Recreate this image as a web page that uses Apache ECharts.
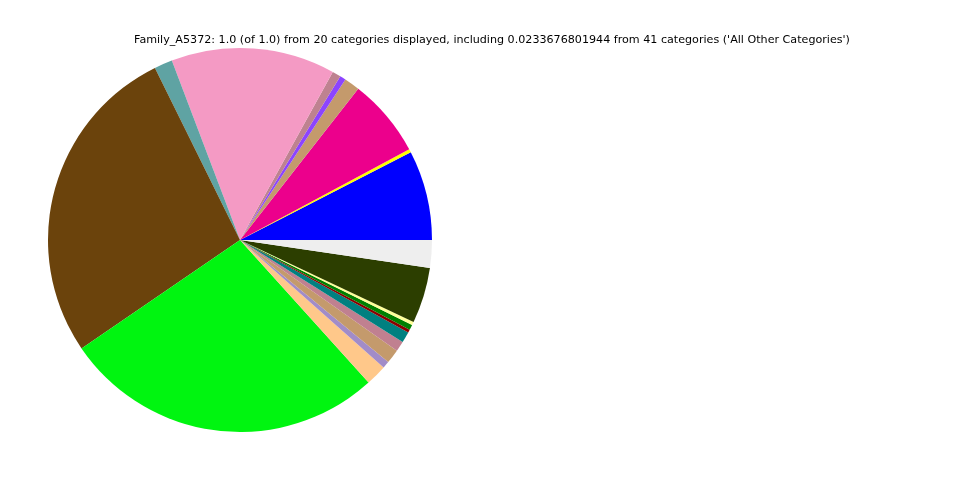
<!DOCTYPE html>
<html>
<head>
<meta charset="utf-8">
<script src="https://cdn.jsdelivr.net/npm/echarts@6/dist/echarts.min.js"></script>
<style>html,body{margin:0;padding:0;background:#fff}#c{width:960px;height:480px}</style>
</head>
<body>
<div id="c"></div>
<script>
var categories = ["Cat_01","Cat_02","Cat_03","Cat_04","Cat_05","Cat_06","Cat_07","Cat_08","Cat_09","Cat_10","Cat_11","Cat_12","Cat_13","Cat_14","Cat_15","Cat_16","Cat_17","Cat_18","Cat_19","All Other Categories"];
var values = [0.0756,0.0028,0.0661,0.0131,0.0050,0.0072,0.1381,0.0153,0.2725,0.2714,0.0178,0.0058,0.0119,0.0086,0.0092,0.0025,0.0044,0.0028,0.0469,0.0234];
var colors = ["#0000FF","#FFFF00","#EC008C","#C49A6C","#8C44FF","#BE8290","#F49AC4","#5FA3A3","#6B430C","#00F510","#FFC88A","#A28CC8","#C49A6C","#C08090","#008080","#8B0000","#008000","#FFFF99","#2C3E00","#EEEEEE"];
var titleText = "Family_A5372: 1.0 (of 1.0) from 20 categories displayed, including 0.0233676801944 from 41 categories ('All Other Categories')";

var data = categories.map(function(c,i){return {name:c, value:values[i], itemStyle:{color:colors[i]}};});
var chart = echarts.init(document.getElementById('c'));
chart.setOption({
  animation:false,
  backgroundColor:'#fff',
  title:{text:titleText,left:129,top:30,
    textStyle:{fontFamily:'DejaVu Sans',fontSize:11.14,fontWeight:'normal',color:'#000'}},
  series:[{
    type:'pie',
    center:[240,240],
    radius:[0,192],
    startAngle:0,
    clockwise:false,
    label:{show:false},
    labelLine:{show:false},
    itemStyle:{borderWidth:0},
    emphasis:{disabled:true},
    minAngle:0,
    avoidLabelOverlap:false,
    data:data
  }]
});
</script>
</body>
</html>
